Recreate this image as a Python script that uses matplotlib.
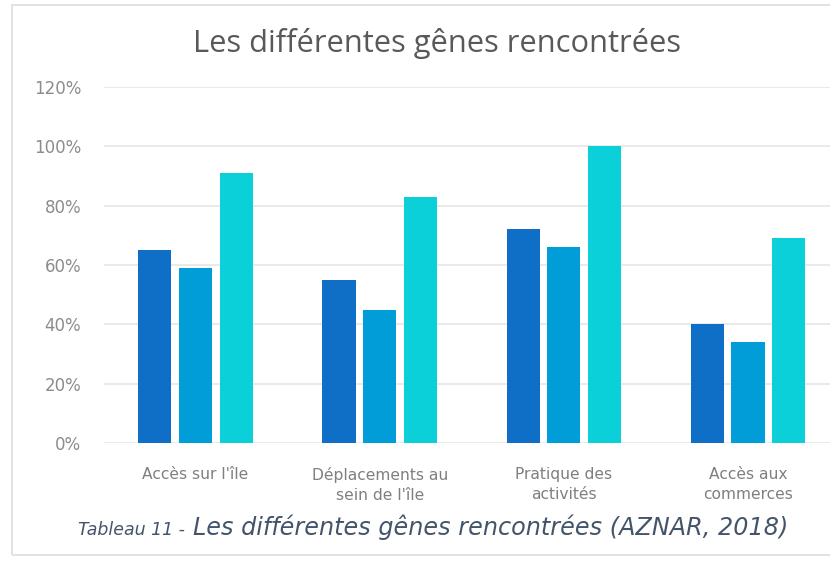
import matplotlib
matplotlib.use("Agg")
import matplotlib.pyplot as plt
import numpy as np
from matplotlib.patches import Rectangle

categories = ["Accès sur l'île", "Déplacements au\nsein de l'île", "Pratique des\nactivités", "Accès aux\ncommerces"]
series_1 = [65, 55, 72, 40]
series_2 = [59, 45, 66, 34]
series_3 = [91, 83, 100, 69]
y_ticks = [0, 20, 40, 60, 80, 100, 120]
title = "Les différentes gênes rencontrées"
caption_prefix = "Tableau 11 -"
caption_main = "Les différentes gênes rencontrées (AZNAR, 2018)"

colors = ["#0F6FC6", "#009DD9", "#0BD0D9"]

W, H = 830, 570
fig = plt.figure(figsize=(W / 100, H / 100), dpi=100)
fig.patch.set_facecolor("white")

# faint outer frame
fig.add_artist(Rectangle((12 / W, 15 / H), 1.0, 550 / H, transform=fig.transFigure,
                         fill=False, edgecolor="#DDDDDD", linewidth=1.2))

ax = fig.add_axes([103.5 / W, 127 / H, 736.5 / W, 356 / H])
x = np.arange(len(categories))
w = 0.18
step = 0.221
for i, (vals, c) in enumerate(zip([series_1, series_2, series_3], colors)):
    ax.bar(x + (i - 1) * step, vals, width=w, color=c, zorder=3)

ax.set_xlim(-0.5, 3.5)
ax.set_ylim(0, 120)
ax.set_yticks(y_ticks)
ax.set_yticklabels([f"{t}%" for t in y_ticks], color="#8C8C8C", fontsize=12, family="DejaVu Sans")
ax.set_xticks(x)
ax.set_xticklabels(categories, color="#7F7F7F", fontsize=11.2, linespacing=1.45, family="DejaVu Sans")
ax.tick_params(axis="both", length=0)
ax.tick_params(axis="y", pad=16)
ax.tick_params(axis="x", pad=17)
ax.grid(axis="y", color="#E6E6E6", linewidth=1.2, zorder=0)
for s in ax.spines.values():
    s.set_visible(False)
ax.set_axisbelow(True)


def fit(txt, target_px):
    fig.canvas.draw()
    bb = txt.get_window_extent()
    txt.set_fontsize(txt.get_fontsize() * target_px / bb.width)


tt = fig.text(436.5 / W, 1 - 52 / H, title, ha="center", va="baseline", fontsize=20,
              color="#595959", family="Open Sans")
fit(tt, 487)

t1 = fig.text(78 / W, 1 - 535 / H, caption_prefix, ha="left", va="baseline", fontsize=11,
              color="#44546A", style="italic", family="DejaVu Sans")
fit(t1, 107)
t2 = fig.text(193 / W, 1 - 535 / H, caption_main, ha="left", va="baseline", fontsize=17,
              color="#44546A", style="italic", family="DejaVu Sans")
fit(t2, 595)

fig.savefig("out.png", dpi=100, facecolor="white")
